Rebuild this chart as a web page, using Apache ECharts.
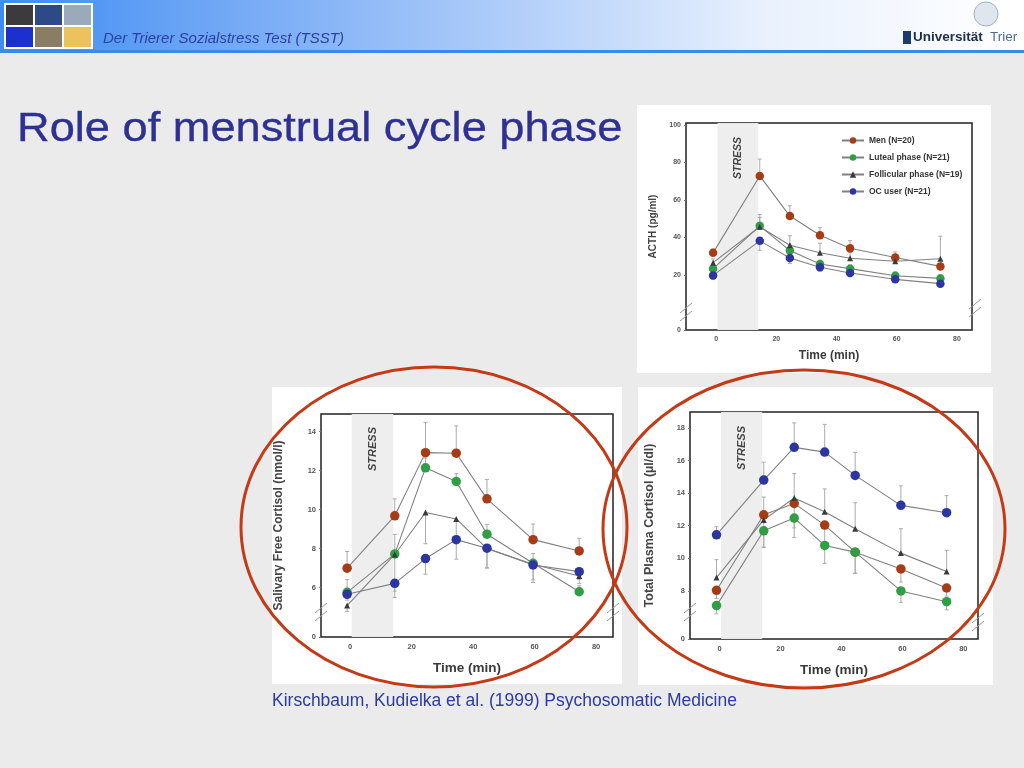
<!DOCTYPE html>
<html><head><meta charset="utf-8">
<script src="https://cdn.jsdelivr.net/npm/echarts@6.0.0/dist/echarts.min.js"></script>
<style>html,body{margin:0;padding:0;background:#ebebeb}#c{width:1024px;height:768px}</style>
</head><body><div id="c"></div>
<script>
// ---- data ----
const times = [-1, 14.5, 24.5, 34.5, 44.5, 59.5, 74.5];
const groups = ['Men (N=20)', 'Luteal phase (N=21)', 'Follicular phase (N=19)', 'OC user (N=21)'];
const xTicks = [0, 20, 40, 60, 80];
const acthTicks = [20, 40, 60, 80, 100];
const salivaTicks = [6, 8, 10, 12, 14];
const plasmaTicks = [8, 10, 12, 14, 16, 18];

// ACTH (pg/ml)
const acthMen = [31.8, 72.8, 51.4, 41.2, 34.3, 29.3, 24.6];
const acthLuteal = [23.4, 46.2, 33.0, 25.9, 23.4, 19.6, 18.2];
const acthFollicular = [26.6, 45.7, 35.9, 31.9, 28.9, 27.3, 28.7];
const acthOC = [19.8, 38.2, 29.1, 24.1, 21.1, 17.7, 15.4];
const acthMenErr = [2, 9, 5.5, 4, 4, 3, 3];
const acthLutealErr = [2, 6, 3, 2, 2, 2, 2];
const acthFollicularErr = [2, 5, 5, 5, 3, 3, 12];
const acthOCErr = [2, 5, 3, 2, 2, 1.5, 1.5];

// Salivary free cortisol (nmol/l)
const salivaMen = [7.0, 9.68, 12.92, 12.89, 10.55, 8.46, 7.88];
const salivaLuteal = [5.76, 7.73, 12.14, 11.44, 8.74, 7.25, 5.79];
const salivaFollicular = [5.08, 7.7, 9.85, 9.52, 8.0, 7.2, 6.6];
const salivaOC = [5.66, 6.22, 7.49, 8.46, 8.02, 7.16, 6.82];
const salivaMenErr = [0.85, 0.87, 1.55, 1.4, 1.0, 0.8, 0.65];
const salivaLutealErr = [0.65, 1.0, 0.5, 0.4, 0.5, 0.5, 0.3];
const salivaFollicularErr = [0.3, 2.2, 1.6, 1.2, 1.0, 0.8, 0.4];
const salivaOCErr = [0.3, 0.4, 0.8, 1.0, 1.0, 0.9, 0.4];

// Total plasma cortisol (µl/dl)
const plasmaMen = [8.04, 12.67, 13.37, 12.04, 10.38, 9.35, 8.18];
const plasmaLuteal = [7.1, 11.69, 12.47, 10.79, 10.38, 8.0, 7.34];
const plasmaFollicular = [8.82, 12.36, 13.7, 12.86, 11.81, 10.32, 9.19];
const plasmaOC = [11.44, 14.8, 16.81, 16.52, 15.09, 13.25, 12.8];
const plasmaMenErr = [0.5, 2.0, 1.5, 1.2, 1.3, 0.8, 0.5];
const plasmaLutealErr = [0.5, 1.0, 1.2, 1.1, 1.3, 0.7, 0.5];
const plasmaFollicularErr = [1.1, 1.4, 1.5, 1.4, 1.6, 1.5, 1.3];
const plasmaOCErr = [0.5, 1.1, 1.5, 1.7, 1.4, 1.2, 1.05];

const stressWindow = [0.5, 14];

// ---- styling ----
const FONT = "Arial, 'Liberation Sans', sans-serif";
const colors = ['#a63c16', '#2f9e45', '#3a3a3a', '#2c35a0'];
const symbols = ['circle', 'circle', 'triangle', 'circle'];
const errDir = [[1, 1, 1, -1], [1, 1, -1, -1], [-1, -1, 1, 1]];

const charts = [
  { grid: {left: 686, top: 123, width: 286, height: 207}, x: [-10, 85], y: [-9.3, 101], ticks: acthTicks,
    yName: 'ACTH (pg/ml)', yNameGap: 28, yNameSize: 10, xNameGap: 20, xNameSize: 12, labelSize: 7, sym: 8.5,
    values: [acthMen, acthLuteal, acthFollicular, acthOC], errs: [acthMenErr, acthLutealErr, acthFollicularErr, acthOCErr],
    stressSize: 10.5, stressDist: 14 },
  { grid: {left: 321, top: 414, width: 292, height: 223}, x: [-9.5, 85.5], y: [3.47, 14.9], ticks: salivaTicks,
    yName: 'Salivary Free Cortisol (nmol/l)', yNameGap: 36, yNameSize: 12, xNameGap: 24, xNameSize: 13.5, labelSize: 7.5, sym: 9.5,
    values: [salivaMen, salivaLuteal, salivaFollicular, salivaOC], errs: [salivaMenErr, salivaLutealErr, salivaFollicularErr, salivaOCErr],
    stressSize: 11, stressDist: 13 },
  { grid: {left: 690, top: 412, width: 288, height: 227}, x: [-9.7, 84.8], y: [5.05, 18.98], ticks: plasmaTicks,
    yName: 'Total Plasma Cortisol (µl/dl)', yNameGap: 34, yNameSize: 12.5, xNameGap: 24, xNameSize: 13.5, labelSize: 7.5, sym: 9.5,
    values: [plasmaMen, plasmaLuteal, plasmaFollicular, plasmaOC], errs: [plasmaMenErr, plasmaLutealErr, plasmaFollicularErr, plasmaOCErr],
    stressSize: 11, stressDist: 14 }
];

const grids = [], xAxes = [], yAxes = [], series = [];
charts.forEach((c, g) => {
  grids.push(Object.assign({show: true, backgroundColor: '#fff', borderColor: '#222', borderWidth: 1.5, outerBoundsMode: 'none', containLabel: false}, c.grid));
  xAxes.push({
    type: 'value', gridIndex: g, min: c.x[0], max: c.x[1], position: 'bottom',
    name: 'Time (min)', nameLocation: 'middle', nameGap: c.xNameGap,
    nameTextStyle: {fontFamily: FONT, fontSize: c.xNameSize, color: '#3a3a3a', fontWeight: 'bold'},
    axisLine: {show: false, onZero: false}, splitLine: {show: false},
    axisTick: {show: false, customValues: xTicks},
    axisLabel: {customValues: xTicks, fontFamily: FONT, fontSize: c.labelSize, color: '#555', fontWeight: 'bold', margin: 6}
  });
  const yMin = c.y[0];
  const yVals = [yMin].concat(c.ticks);
  yAxes.push({
    type: 'value', gridIndex: g, min: c.y[0], max: c.y[1], position: 'left',
    name: c.yName, nameLocation: 'middle', nameGap: c.yNameGap,
    nameTextStyle: {fontFamily: FONT, fontSize: c.yNameSize, color: '#444', fontWeight: 'bold'},
    axisLine: {show: false, onZero: false}, splitLine: {show: false},
    axisTick: {show: true, length: 2, customValues: yVals, lineStyle: {color: '#777'}},
    axisLabel: {customValues: yVals, fontFamily: FONT, fontSize: c.labelSize, color: '#555', fontWeight: 'bold', margin: 5,
      formatter: v => (Math.abs(v - yMin) < 1e-6 ? '0' : String(v))}
  });
  // STRESS band
  series.push({
    type: 'line', xAxisIndex: g, yAxisIndex: g, data: [], silent: true,
    markArea: {
      silent: true,
      itemStyle: {color: '#ededed', opacity: 0.95},
      label: {show: true, position: 'insideTop', rotate: 90, align: 'right', verticalAlign: 'middle', distance: c.stressDist,
        formatter: 'STRESS', fontFamily: FONT, fontSize: c.stressSize, fontWeight: 'bold', fontStyle: 'italic', color: '#444'},
      data: [[{xAxis: stressWindow[0]}, {xAxis: stressWindow[1]}]]
    }
  });
  groups.forEach((name, s) => {
    const vals = c.values[s], errs = c.errs[s], dir = errDir[g][s];
    series.push({
      type: 'custom', xAxisIndex: g, yAxisIndex: g, silent: true, z: 2,
      data: times.map((t, i) => [t, vals[i], vals[i] + dir * errs[i]]),
      renderItem: (params, api) => {
        const p0 = api.coord([api.value(0), api.value(1)]);
        const p1 = api.coord([api.value(0), api.value(2)]);
        return {type: 'group', children: [
          {type: 'line', shape: {x1: p0[0], y1: p0[1], x2: p1[0], y2: p1[1]}, style: {stroke: '#ababab', lineWidth: 1}},
          {type: 'line', shape: {x1: p1[0] - 2, y1: p1[1], x2: p1[0] + 2, y2: p1[1]}, style: {stroke: '#ababab', lineWidth: 1}}
        ]};
      }
    });
    series.push({
      name: name, type: 'line', xAxisIndex: g, yAxisIndex: g, z: 3,
      data: times.map((t, i) => [t, vals[i]]),
      symbol: symbols[s], symbolSize: s === 2 ? 6 : c.sym,
      itemStyle: {color: colors[s]},
      lineStyle: {color: '#808080', width: 1.1}
    });
  });
});

// decorative slide graphics
const graphic = [
  {type: 'rect', shape: {x: 0, y: 0, width: 1024, height: 50}, style: {fill: new echarts.graphic.LinearGradient(0, 0, 1, 0, [
    {offset: 0, color: '#3f8cf3'}, {offset: 0.35, color: '#8fb9f7'}, {offset: 0.75, color: '#e9f1fd'}, {offset: 1, color: '#ffffff'}])}},
  {type: 'rect', shape: {x: 0, y: 50, width: 1024, height: 3}, style: {fill: '#3b8ae8'}},
  {type: 'rect', shape: {x: 4, y: 3, width: 89, height: 46}, style: {fill: '#ffffff'}},
  {type: 'rect', shape: {x: 6, y: 5, width: 27, height: 20}, style: {fill: '#3c3a3c'}},
  {type: 'rect', shape: {x: 35, y: 5, width: 27, height: 20}, style: {fill: '#2d4a86'}},
  {type: 'rect', shape: {x: 64, y: 5, width: 27, height: 20}, style: {fill: '#9aaabb'}},
  {type: 'rect', shape: {x: 6, y: 27, width: 27, height: 20}, style: {fill: '#1c2fcf'}},
  {type: 'rect', shape: {x: 35, y: 27, width: 27, height: 20}, style: {fill: '#8a7d66'}},
  {type: 'rect', shape: {x: 64, y: 27, width: 27, height: 20}, style: {fill: '#ecc25c'}},
  {type: 'text', x: 103, y: 31, style: {text: 'Der Trierer Sozialstress Test (TSST)', font: 'italic 15px ' + FONT, fill: '#2b41a3'}},
  {type: 'circle', shape: {cx: 986, cy: 14, r: 12}, style: {fill: '#dfe6ee', stroke: '#9fb2c8', lineWidth: 1}},
  {type: 'rect', shape: {x: 903, y: 31, width: 8, height: 13}, style: {fill: '#1d3a6b'}},
  {type: 'text', x: 913, y: 30, style: {text: 'Universität', font: 'bold 13.5px ' + FONT, fill: '#1c2d4d'}},
  {type: 'text', x: 990, y: 30, style: {text: 'Trier', font: '13.5px ' + FONT, fill: '#4f6c9c'}},
  {type: 'text', x: 17, y: 130, scaleX: 1.13, style: {text: 'Role of menstrual cycle phase', font: '40px ' + FONT, fill: '#2e3192',
    verticalAlign: 'middle', stroke: '#2e3192', lineWidth: 0.35,
    shadowColor: 'rgba(0,0,0,0.45)', shadowOffsetX: 2, shadowOffsetY: 2, shadowBlur: 2}},
  {type: 'rect', z: -10, shape: {x: 637, y: 105, width: 354, height: 268}, style: {fill: '#ffffff'}},
  {type: 'rect', z: -10, shape: {x: 272, y: 387, width: 350, height: 297}, style: {fill: '#ffffff'}},
  {type: 'rect', z: -10, shape: {x: 638, y: 387, width: 355, height: 298}, style: {fill: '#ffffff'}},
  {type: 'text', x: 272, y: 692, style: {text: 'Kirschbaum, Kudielka et al. (1999) Psychosomatic Medicine', font: '17.5px ' + FONT, fill: '#2b3aa6'}},
  {type: 'ellipse', z: 100, shape: {cx: 434, cy: 527, rx: 193, ry: 160}, style: {fill: 'none', stroke: '#c43a16', lineWidth: 3}},
  {type: 'ellipse', z: 100, shape: {cx: 804, cy: 529, rx: 201, ry: 159}, style: {fill: 'none', stroke: '#c43a16', lineWidth: 3}}
];
// broken-axis marks
[[686, 312], [975, 308], [321, 612], [613, 612], [690, 612], [978, 622]].forEach(p => {
  [-4, 4].forEach(d => graphic.push({type: 'line', z: 50, shape: {x1: p[0] - 6, y1: p[1] + d + 5, x2: p[0] + 6, y2: p[1] + d - 5},
    style: {stroke: '#9a9a9a', lineWidth: 1}}));
});

const chart = echarts.init(document.getElementById('c'));
chart.setOption({
  animation: false,
  backgroundColor: '#ebebeb',
  grid: grids, xAxis: xAxes, yAxis: yAxes, series: series,
  legend: {data: groups, orient: 'vertical', left: 836, top: 131, itemWidth: 22, itemHeight: 8, itemGap: 8,
    textStyle: {fontFamily: FONT, fontSize: 8.5, fontWeight: 'bold', color: '#333'}},
  graphic: graphic
});
</script></body></html>
